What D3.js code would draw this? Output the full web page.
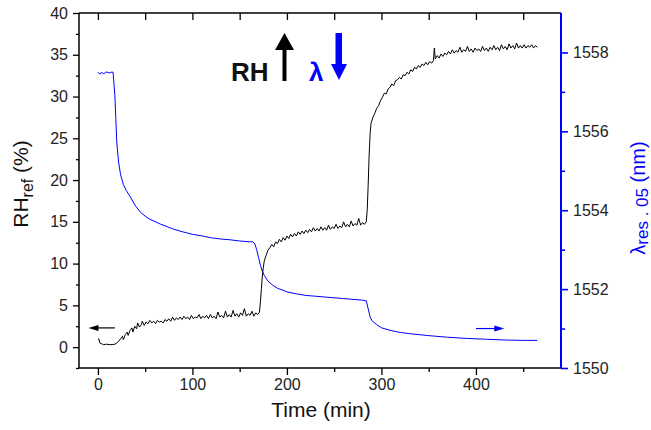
<!DOCTYPE html>
<html>
<head>
<meta charset="utf-8">
<script src="https://d3js.org/d3.v7.min.js"></script>
<style type="text/css">
body {margin:0;background:#fff;}
svg {font-family:"Liberation Sans", Arial, sans-serif;}
.domain {display:none;}
</style>
</head>
<body>
<svg id="chart" width="651" height="430"></svg>
<script type="text/javascript">
// RH reference (%) vs time (min)
var rhSeries = [
 [0,0.9],[1,1.0],[2,0.5],[4,0.4],[6,0.3],[9,0.35],[12,0.3],[15,0.3],[18,0.35],[20,0.5],
 [22,0.7],[24,1.0],[26,1.3],[27,0.9],[29,1.5],[31,1.8],[32,1.4],[34,2.0],[36,2.3],[37,1.8],
 [39,2.5],[41,2.2],[42,2.9],[44,2.4],[46,2.7],[47,3.1],[49,2.6],[51,3.0],[53,2.8],[55,3.2],
 [57,2.9],[59,3.1],[61,2.8],[63,3.2],[65,3.0],[67,3.1],[69,2.9],[71,3.3],[73,3.1],[75,3.4],
 [77,3.1],[79,3.6],[81,3.2],[83,3.5],[85,3.3],[87,3.6],[89,3.3],[91,3.7],[93,3.4],[95,3.6],
 [97,3.3],[99,3.8],[101,3.4],[103,3.6],[105,3.5],[107,3.9],[109,3.4],[111,3.7],[113,3.5],[115,3.8],
 [117,3.4],[119,3.9],[121,3.5],[123,3.7],[125,3.4],[127,4.2],[129,3.6],[131,3.8],[133,3.5],[135,4.3],
 [137,3.6],[139,3.9],[141,3.6],[143,4.4],[145,3.7],[147,4.0],[149,3.6],[151,4.1],[153,3.8],[155,4.6],
 [157,3.7],[159,4.0],[161,3.8],[163,4.3],[165,3.7],[167,4.1],[169,3.9],[171,4.2],[172,5.5],[173,7.0],
 [174,8.5],[175,9.5],[176,10.3],[178,11.0],[180,11.6],[182,11.9],[184,12.3],[186,12.0],[188,12.6],[190,12.4],
 [192,12.9],[194,12.6],[196,13.1],[198,12.8],[200,13.3],[202,13.0],[204,13.5],[206,13.2],[208,13.6],[210,13.3],
 [212,13.8],[214,13.5],[216,13.9],[218,13.6],[220,14.0],[222,13.7],[224,14.1],[226,13.8],[228,14.3],[230,13.9],
 [232,14.2],[234,13.9],[236,14.4],[238,14.0],[240,14.3],[242,14.0],[244,14.6],[246,14.1],[248,14.4],[250,14.2],
 [252,14.7],[254,14.2],[256,14.5],[258,14.3],[260,15.0],[262,14.4],[264,14.7],[266,14.4],[268,15.1],[270,14.5],
 [272,14.8],[274,14.6],[276,15.4],[278,14.6],[280,14.9],[282,14.7],[284,15.0],[285,16.5],[286,19.5],[287,23.0],
 [288,25.5],[289,26.8],[291,27.5],[293,28.0],[295,28.6],[297,28.9],[299,29.5],[301,29.9],[303,30.4],[305,30.3],
 [307,30.9],[309,31.1],[311,31.5],[313,31.3],[315,31.9],[317,32.0],[319,32.3],[321,32.1],[323,32.6],[325,32.5],
 [327,32.9],[329,32.7],[331,33.2],[333,33.0],[335,33.5],[337,33.3],[339,33.7],[341,33.5],[343,33.9],[345,33.7],
 [347,34.1],[349,33.8],[351,34.2],[353,34.0],[355,34.3],[356,35.8],[357,34.5],[359,34.9],[361,34.6],[363,35.1],
 [365,34.8],[367,35.2],[369,35.0],[371,35.4],[373,35.1],[375,35.6],[377,35.2],[379,35.5],[381,35.3],[383,35.9],
 [385,35.3],[387,35.6],[389,35.4],[391,36.0],[393,35.4],[395,35.7],[397,35.3],[399,35.8],[401,35.5],[403,35.7],
 [405,35.4],[407,36.0],[409,35.5],[411,35.8],[413,35.4],[415,35.9],[417,35.6],[419,36.1],[421,35.6],[423,35.9],
 [425,35.5],[427,36.2],[429,35.7],[431,36.0],[433,35.6],[435,36.3],[437,35.8],[439,36.1],[441,35.7],[443,36.4],
 [445,35.8],[447,36.1],[449,35.8],[451,36.2],[453,35.8],[455,36.1],[457,35.9],[459,36.2],[461,35.8],[463,36.1],
 [465,35.9]
];

// resonance wavelength (nm) vs time (min)
var lambdaSeries = [
 [0,1557.5],[2,1557.45],[4,1557.5],[6,1557.45],[8,1557.5],[10,1557.5],[12,1557.48],[14,1557.5],[16,1557.5],
 [17,1557.2],[18,1556.9],[19,1556.3],[20,1555.7],[22,1555.2],[24,1554.9],[27,1554.65],[30,1554.5],[34,1554.35],
 [40,1554.1],[45,1553.95],[50,1553.85],[55,1553.77],[66,1553.65],[80,1553.52],[90,1553.45],[100,1553.39],
 [110,1553.35],[120,1553.3],[130,1553.27],[140,1553.25],[150,1553.22],[160,1553.2],[164,1553.2],[166,1553.15],
 [168,1553.0],[170,1552.8],[172,1552.6],[174,1552.45],[176,1552.35],[180,1552.2],[185,1552.1],[190,1552.02],
 [196,1551.97],[200,1551.93],[210,1551.88],[220,1551.84],[230,1551.82],[240,1551.8],[250,1551.78],[260,1551.76],
 [270,1551.74],[280,1551.72],[284,1551.7],[286,1551.5],[288,1551.3],[290,1551.2],[295,1551.1],[300,1551.02],
 [310,1550.95],[320,1550.9],[330,1550.87],[350,1550.82],[370,1550.78],[390,1550.75],[410,1550.73],[430,1550.71],
 [450,1550.7],[465,1550.7]
];

var xTicks = [0, 100, 200, 300, 400];
var xMinor = [50, 150, 250, 350, 450];
var rhTicks = [0, 5, 10, 15, 20, 25, 30, 35, 40];
var rhMinor = [-2.5, 2.5, 7.5, 12.5, 17.5, 22.5, 27.5, 32.5, 37.5];
var lamTicks = [1550, 1552, 1554, 1556, 1558];
var lamMinor = [1551, 1553, 1555, 1557];

var plotL = 79, plotR = 561, plotT = 13, plotB = 368;
var blue = "#0000ff";

var svg = d3.select("#chart");

var x = d3.scaleLinear().domain([-20, 490]).range([plotL, plotR]);
var yRH = d3.scaleLinear().domain([-2.5, 40]).range([plotB, plotT]);
var yLam = d3.scaleLinear().domain([1550, 1559]).range([plotB, plotT]);

// axes
var gx = svg.append("g").attr("transform", "translate(0," + plotB + ")");
gx.call(d3.axisBottom(x).tickValues(xTicks).tickSize(7).tickPadding(4).tickFormat(d3.format("d")));
gx.append("g").call(d3.axisBottom(x).tickValues(xMinor).tickSize(4).tickFormat(""));

var gxTop = svg.append("g").attr("transform", "translate(0," + plotT + ")");
gxTop.call(d3.axisBottom(x).tickValues(xTicks.concat(xMinor)).tickSize(7).tickFormat(""));

var gl = svg.append("g").attr("transform", "translate(" + plotL + ",0)");
gl.call(d3.axisLeft(yRH).tickValues(rhTicks).tickSize(6).tickPadding(5).tickFormat(d3.format("d")));
gl.append("g").call(d3.axisLeft(yRH).tickValues(rhMinor).tickSize(3).tickFormat(""));

var gr = svg.append("g").attr("transform", "translate(" + plotR + ",0)");
gr.call(d3.axisRight(yLam).tickValues(lamTicks).tickSize(7).tickPadding(5).tickFormat(d3.format("d")));
gr.append("g").call(d3.axisRight(yLam).tickValues(lamMinor).tickSize(4).tickFormat(""));

svg.selectAll(".tick text").attr("font-size", 16).attr("fill", "#222")
  .attr("font-family", "Liberation Sans, Arial, sans-serif");
svg.selectAll(".tick line").attr("stroke-width", 1.3);
gr.selectAll(".tick line").attr("stroke", blue).attr("stroke-width", 1.6);

// frame lines
svg.append("line").attr("x1", plotL).attr("x2", plotR).attr("y1", plotT).attr("y2", plotT)
  .attr("stroke", "#000").attr("stroke-width", 1.5);
svg.append("line").attr("x1", plotL).attr("x2", plotR).attr("y1", plotB).attr("y2", plotB)
  .attr("stroke", "#000").attr("stroke-width", 1.5);
svg.append("line").attr("x1", plotL).attr("x2", plotL).attr("y1", plotT).attr("y2", plotB)
  .attr("stroke", "#000").attr("stroke-width", 1.5);
svg.append("line").attr("x1", plotR).attr("x2", plotR).attr("y1", plotT).attr("y2", plotB)
  .attr("stroke", blue).attr("stroke-width", 2);

// data lines
var rhLine = d3.line().x(function(d) { return x(d[0]); }).y(function(d) { return yRH(d[1]); });
var lamLine = d3.line().x(function(d) { return x(d[0]); }).y(function(d) { return yLam(d[1]); });

svg.append("path").datum(lambdaSeries).attr("d", lamLine)
  .attr("fill", "none").attr("stroke", blue).attr("stroke-width", 1);
svg.append("path").datum(rhSeries).attr("d", rhLine)
  .attr("fill", "none").attr("stroke", "#000").attr("stroke-width", 1);

// axis titles
var yt = svg.append("text").attr("transform", "translate(28,184) rotate(-90)")
  .attr("text-anchor", "middle").attr("font-size", 21).attr("fill", "#111");
yt.append("tspan").text("RH");
yt.append("tspan").attr("font-size", 16).attr("dy", 5).text("ref");
yt.append("tspan").attr("dy", -5).text(" (%)");

var rt = svg.append("text").attr("transform", "translate(645,198) rotate(-90)")
  .attr("text-anchor", "middle").attr("font-size", 20).attr("fill", blue);
rt.append("tspan").text("λ");
rt.append("tspan").attr("font-size", 17).attr("dy", 3).text("res . 05");
rt.append("tspan").attr("dy", -3).text(" (nm)");

svg.append("text").attr("x", (plotL + plotR) / 2 + 1).attr("y", 417)
  .attr("text-anchor", "middle").attr("font-size", 21).attr("fill", "#111").text("Time (min)");

// annotations
svg.append("text").attr("x", 231).attr("y", 81).attr("font-size", 26).attr("font-weight", "bold")
  .attr("fill", "#111").text("RH");
svg.append("path").attr("d", "M282.5,81V50H275L284.5,33L294,50H286.5V81Z").attr("fill", "#000");
svg.append("text").attr("x", 309).attr("y", 81).attr("font-size", 26).attr("font-weight", "bold")
  .attr("fill", blue).text("λ");
svg.append("path").attr("d", "M335.5,33V64H331L339,80L347,64H342V33Z").attr("fill", blue);

// direction arrows next to the curves
function arrow(x0, x1, yy, color) {
  var dir = x1 > x0 ? 1 : -1;
  svg.append("line").attr("x1", x0).attr("x2", x1 - dir * 6).attr("y1", yy).attr("y2", yy)
    .attr("stroke", color).attr("stroke-width", 1.2);
  svg.append("path").attr("d", "M" + x1 + "," + yy + "L" + (x1 - dir * 10) + "," + (yy - 3) +
    "L" + (x1 - dir * 10) + "," + (yy + 3) + "Z").attr("fill", color);
}
arrow(x(18), x(-10), yRH(2.3), "#000");
arrow(x(400), x(430), yLam(1551.0), blue);
</script>
</body>
</html>
